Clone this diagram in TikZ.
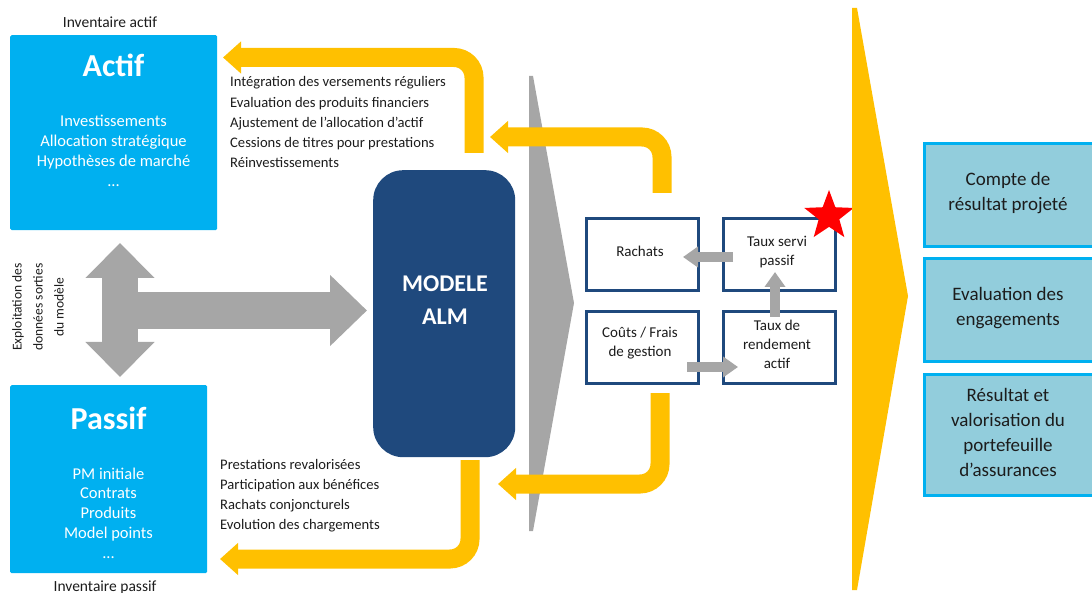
\documentclass[tikz,border=0pt]{standalone}
\usepackage{fontspec}
\setmainfont{Carlito}
\usetikzlibrary{arrows.meta,shapes.geometric}
\definecolor{actifblue}{HTML}{00B0F0}
\definecolor{almblue}{HTML}{1F497D}
\definecolor{flowgray}{HTML}{A6A6A6}
\definecolor{flowyellow}{HTML}{FFC000}
\definecolor{resultfill}{HTML}{92CDDC}
\definecolor{inktext}{HTML}{1C1C1C}
\newcommand{\fsz}[2]{\fontsize{#1}{#2}\selectfont}
\begin{document}
\begin{tikzpicture}[x=1pt,y=-1pt,
  inputbox/.style={fill=actifblue, draw=none, rounded corners=1.5, inner sep=0, anchor=north west},
  almbox/.style={fill=almblue, draw=none, rounded corners=30, inner sep=0, anchor=north west},
  calcbox/.style={draw=almblue, line width=3, fill=white, inner sep=0, anchor=north west,
                  minimum width=112, minimum height=72},
  resultbox/.style={draw=actifblue, line width=3, fill=resultfill, inner sep=0, anchor=north west,
                    minimum width=200, minimum height=103},
  titletext/.style={text=white, font=\fsz{32}{36}\bfseries, inner sep=0, anchor=base},
  listtext/.style={text=white, font=\fsz{16.5}{19.8}, align=center, inner sep=0, anchor=base},
  notetext/.style={text=inktext, font=\fsz{14.6}{20.2}, align=left, inner sep=0, anchor=base west},
  captext/.style={text=inktext, font=\fsz{15.5}{16}, inner sep=0, anchor=base},
  calctext/.style={text=inktext, font=\fsz{15}{19}, align=center, inner sep=0, anchor=base},
  resulttext/.style={text=inktext, font=\fsz{19}{25}, align=center, inner sep=0, anchor=base},
  yflow/.style={draw=flowyellow, line width=19, rounded corners=20,
                -{Triangle[length=18pt,width=31pt]}},
  gflow/.style={draw=flowgray, line width=10, -{Triangle[length=15pt,width=20pt]}},
]
\useasboundingbox (0,0) rectangle (1092,593);
\clip (0,0) rectangle (1092,593);

% multi-line nodes are placed by the baseline of their last line

% ---------- inputs ----------
\node[inputbox, minimum width=207, minimum height=195] (actif) at (10,35) {};
\node[titletext] (actiftitle) at (113.5,77) {Actif};
\node[listtext] (actiflist) at (113.5,186.4)
  {Investissements\\Allocation stratégique\\Hypothèses de marché\\...};
\node[captext] (invactif) at (110,28) {Inventaire actif};

\node[inputbox, minimum width=197, minimum height=188] (passif) at (10,385) {};
\node[titletext] (passiftitle) at (108.5,429) {Passif};
\node[listtext] (passiflist) at (108.5,558.2)
  {PM initiale\\Contrats\\Produits\\Model points\\...};
\node[captext] (invpassif) at (105,591) {Inventaire passif};

\node[text=inktext, font=\fsz{13.5}{21}, align=center, inner sep=0, rotate=90] (exploit) at (38,307)
  {Exploitation des\\données sorties\\du modèle};

% ---------- gray cross arrow ----------
\coordinate (crosstop) at (120,243);
\coordinate (crossbot) at (120,377);
\coordinate (crossmid) at (138,310.5);
\coordinate (crosstip) at (367,310.5);
\draw[flowgray, line width=36, {Triangle[length=35pt,width=67pt]}-{Triangle[length=35pt,width=67pt]}]
  (crosstop) -- (crossbot);
\draw[flowgray, line width=37, -{Triangle[length=37pt,width=69pt]}] (crossmid) -- (crosstip);

% ---------- ALM model ----------
\node[almbox, minimum width=142, minimum height=287] (alm) at (373,170) {};
\node[text=white, font=\fsz{24}{33}\bfseries, align=center, inner sep=0, anchor=base] (almtext)
  at (445,325) {MODELE\\ALM};

% ---------- gray chevron ----------
\fill[flowgray] (529,76) -- (533,76) -- (574,303) -- (533,531) -- (529,531) -- cycle;

% ---------- yellow feedback arrows ----------
\coordinate (ya1) at (474,153);
\coordinate (ya1c) at (474,57.5);
\coordinate (ya1t) at (223,57.5);
\draw[yflow] (ya1) -- (ya1c) -- (ya1t);

\coordinate (ya2) at (662,193);
\coordinate (ya2c) at (662,137);
\coordinate (ya2t) at (490,137);
\draw[yflow] (ya2) -- (ya2c) -- (ya2t);

\coordinate (yb1) at (470,460);
\coordinate (yb1c) at (470,559);
\coordinate (yb1t) at (220,559);
\draw[yflow] (yb1) -- (yb1c) -- (yb1t);

\coordinate (yb2) at (660,393);
\coordinate (yb2c) at (660,484);
\coordinate (yb2t) at (498,484);
\draw[yflow] (yb2) -- (yb2c) -- (yb2t);

\node[notetext] (actifnotes) at (230,167.8)
  {Intégration des versements réguliers\\Evaluation des produits financiers\\Ajustement de l’allocation d’actif\\Cessions de titres pour prestations\\Réinvestissements};
\node[notetext, font=\fsz{14.6}{20}] (passifnotes) at (220,529)
  {Prestations revalorisées\\Participation aux bénéfices\\Rachats conjoncturels\\Evolution des chargements};

% ---------- calculation boxes ----------
\node[calcbox] (rachats) at (584.5,217.5) {};
\node[calcbox] (tauxservi) at (721.5,217.5) {};
\node[calcbox, minimum height=71] (couts) at (584.5,310.5) {};
\node[calcbox, minimum height=71] (rendement) at (721.5,310.5) {};

\node[calctext] at (640,257) {Rachats};
\node[calctext] at (777,266) {Taux servi\\passif};
\node[calctext] at (640,357) {Coûts / Frais\\de gestion};
\node[calctext] at (777,369) {Taux de\\rendement\\actif};

\coordinate (ga1) at (733,257);
\coordinate (ga1t) at (683,257);
\draw[gflow] (ga1) -- (ga1t);
\coordinate (ga2) at (775,317);
\coordinate (ga2t) at (775,272);
\draw[gflow] (ga2) -- (ga2t);
\coordinate (ga3) at (687,367);
\coordinate (ga3t) at (738,367);
\draw[gflow] (ga3) -- (ga3t);

\node[star, star points=5, star point ratio=2.4, fill=red, draw=none, minimum size=52, inner sep=0] (mark) at (829,216) {};

% ---------- yellow chevron ----------
\fill[flowyellow] (852,8) -- (857,8) -- (908,296) -- (857,590) -- (852,590) -- cycle;

% ---------- results ----------
\node[resultbox] (compte) at (922.5,142.5) {};
\node[resultbox] (engag) at (922.5,257.5) {};
\node[resultbox, minimum height=120] (portef) at (922.5,373.5) {};

\node[resulttext] at (1008,211) {Compte de\\résultat projeté};
\node[resulttext] at (1008,326) {Evaluation des\\engagements};
\node[resulttext] at (1008,476) {Résultat et\\valorisation du\\portefeuille\\d’assurances};
\end{tikzpicture}
\end{document}
